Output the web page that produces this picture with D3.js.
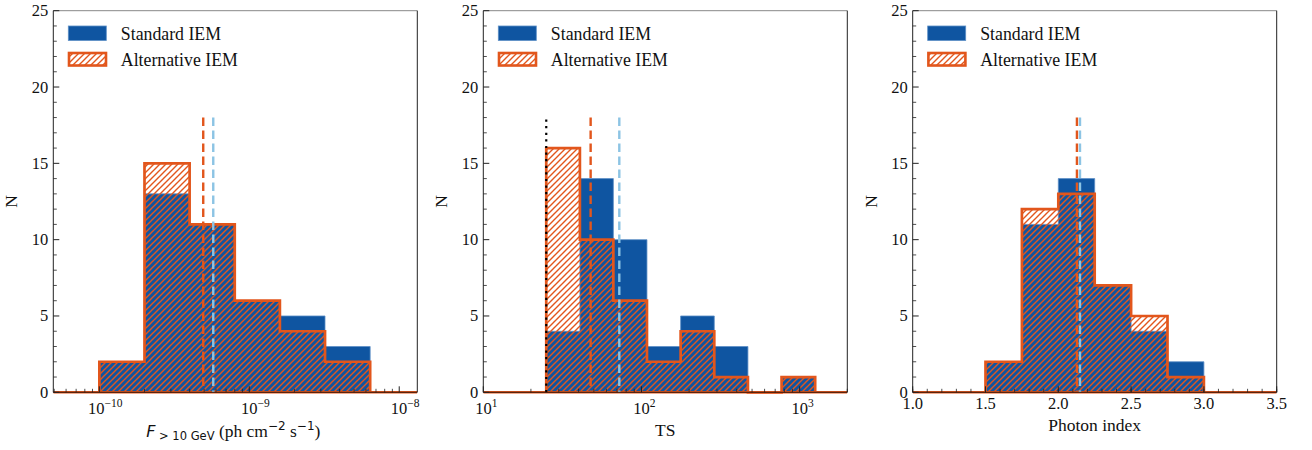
<!DOCTYPE html>
<html>
<head>
<meta charset="utf-8">
<script src="https://cdn.jsdelivr.net/npm/d3@7"></script>
<style>
html,body{margin:0;padding:0;background:#fff;}
svg{display:block;}
.serif{font-family:"Liberation Serif","Times New Roman",Times,"DejaVu Serif",serif;}
.sans{font-family:"DejaVu Sans",sans-serif;}
</style>
</head>
<body>
<svg id="chart" width="1312" height="450"></svg>
<script>
// ---------- data ----------
const seriesNames = ["Standard IEM", "Alternative IEM"];
const yTicks = [0, 5, 10, 15, 20, 25];

// Panel 1: flux > 10 GeV
const fluxBinEdges = [1e-10, 2e-10, 4e-10, 8e-10, 1.6e-9, 3.2e-9, 6.4e-9];
const fluxStandard = [2, 13, 11, 6, 5, 3];
const fluxAlternative = [2, 15, 11, 6, 4, 2];
const fluxMedianStandard = 5.75e-10;
const fluxMedianAlternative = 4.93e-10;
const fluxDomain = [4.93e-11, 1.32e-8];
const fluxTickExponents = [-10, -9, -8];

// Panel 2: TS
const tsBinEdges = [25, 40.8, 66.4, 108.3, 176.8, 288.5, 470.8, 768.2, 1253];
const tsStandard = [4, 14, 10, 3, 5, 3, 0, 1];
const tsAlternative = [16, 10, 6, 2, 4, 1, 0, 1];
const tsMedianStandard = 72.4;
const tsMedianAlternative = 47.7;
const tsThreshold = 25;
const tsDomain = [10, 2000];
const tsTickExponents = [1, 2, 3];

// Panel 3: photon index
const indexBinEdges = [1.5, 1.75, 2.0, 2.25, 2.5, 2.75, 3.0];
const indexStandard = [2, 11, 14, 7, 4, 2];
const indexAlternative = [2, 12, 13, 7, 5, 1];
const indexMedianStandard = 2.149;
const indexMedianAlternative = 2.128;
const indexDomain = [1.0, 3.5];
const indexTicks = [1.0, 1.5, 2.0, 2.5, 3.0, 3.5];

// ---------- style ----------
const BLUE = "#0f55a1";
const ORANGE = "#e2561c";
const LIGHTBLUE = "#8cc4e4";

const svg = d3.select("#chart");
const defs = svg.append("defs");
const pat = defs.append("pattern")
  .attr("id", "hatch").attr("patternUnits", "userSpaceOnUse")
  .attr("width", 6).attr("height", 6);
pat.append("path")
  .attr("d", "M0,6 L6,0 M-1.5,1.5 L1.5,-1.5 M4.5,7.5 L7.5,4.5")
  .attr("stroke", ORANGE).attr("stroke-width", 1.4).attr("fill", "none");

const TOP = 10.7, BOTTOM = 392.3, W = 364;

function stepPoints(edges, counts, x, y) {
  const pts = [[x(edges[0]), y(0)]];
  counts.forEach((c, i) => {
    pts.push([x(edges[i]), y(c)]);
    pts.push([x(edges[i + 1]), y(c)]);
  });
  pts.push([x(edges[edges.length - 1]), y(0)]);
  return pts;
}

function serifText(sel) {
  return sel.append("text").attr("class", "serif").attr("fill", "#111");
}

function drawPanel(cfg) {
  const left = cfg.left;
  const g = svg.append("g");
  const x = cfg.log ? d3.scaleLog().domain(cfg.domain).range([left, left + W])
                    : d3.scaleLinear().domain(cfg.domain).range([left, left + W]);
  const y = d3.scaleLinear().domain([0, 25]).range([BOTTOM, TOP]);
  const line = d3.line();

  const clip = defs.append("clipPath").attr("id", "clip" + cfg.id);
  clip.append("rect").attr("x", left).attr("y", TOP).attr("width", W).attr("height", BOTTOM - TOP + 2);
  const plot = g.append("g").attr("clip-path", `url(#clip${cfg.id})`);

  const sp = stepPoints(cfg.edges, cfg.standard, x, y);
  plot.append("path").attr("d", line(sp) + "Z")
    .attr("fill", BLUE).attr("stroke", "#5d8fc6").attr("stroke-width", 0.8);

  const ap = stepPoints(cfg.edges, cfg.alternative, x, y);
  plot.append("path").attr("d", line(ap) + "Z")
    .attr("fill", "url(#hatch)").attr("stroke", "none");
  plot.append("line").attr("x1", left).attr("x2", left + W)
    .attr("y1", y(0)).attr("y2", y(0))
    .attr("stroke", ORANGE).attr("stroke-width", 2.6);
  plot.append("path").attr("d", line(ap))
    .attr("fill", "none").attr("stroke", ORANGE).attr("stroke-width", 2.7)
    .attr("stroke-linejoin", "miter");

  if (cfg.threshold !== undefined) {
    g.append("line").attr("x1", x(cfg.threshold)).attr("x2", x(cfg.threshold))
      .attr("y1", y(0)).attr("y2", y(18))
      .attr("stroke", "#000").attr("stroke-width", 2.2).attr("stroke-dasharray", "2.2,4.4");
  }
  g.append("line").attr("x1", x(cfg.medAlt)).attr("x2", x(cfg.medAlt))
    .attr("y1", y(18)).attr("y2", y(0))
    .attr("stroke", ORANGE).attr("stroke-width", 2.4).attr("stroke-dasharray", "8.5,4.5");
  g.append("line").attr("x1", x(cfg.medStd)).attr("x2", x(cfg.medStd))
    .attr("y1", y(18)).attr("y2", y(0))
    .attr("stroke", LIGHTBLUE).attr("stroke-width", 2.4).attr("stroke-dasharray", "8.5,4.5");

  // spines
  g.append("line").attr("x1", left).attr("x2", left + W).attr("y1", TOP).attr("y2", TOP)
    .attr("stroke", "#888").attr("stroke-width", 1);
  g.append("line").attr("x1", left + W).attr("x2", left + W).attr("y1", TOP).attr("y2", BOTTOM)
    .attr("stroke", "#222").attr("stroke-width", 1);
  g.append("line").attr("x1", left).attr("x2", left).attr("y1", TOP).attr("y2", BOTTOM)
    .attr("stroke", "#222").attr("stroke-width", 1);
  g.append("line").attr("x1", left).attr("x2", left + W).attr("y1", BOTTOM).attr("y2", BOTTOM)
    .attr("stroke", "#3a1a0c").attr("stroke-width", 1);

  // y ticks
  const yMinor = d3.range(0, 26).filter(v => v % 5 !== 0);
  yTicks.forEach(v => {
    g.append("line").attr("x1", left).attr("x2", left + 6).attr("y1", y(v)).attr("y2", y(v))
      .attr("stroke", "#222").attr("stroke-width", 1);
    serifText(g).attr("x", left - 5).attr("y", y(v) + 5.5)
      .attr("text-anchor", "end").attr("font-size", 16.5).text(v);
  });
  yMinor.forEach(v => {
    g.append("line").attr("x1", left).attr("x2", left + 3.5).attr("y1", y(v)).attr("y2", y(v))
      .attr("stroke", "#222").attr("stroke-width", 0.8);
  });
  serifText(g).attr("transform", `translate(${left - 36},${(TOP + BOTTOM) / 2}) rotate(-90)`)
    .attr("text-anchor", "middle").attr("font-size", 17.5).text("N");

  // x ticks
  if (cfg.log) {
    const lo = Math.floor(Math.log10(cfg.domain[0])), hi = Math.ceil(Math.log10(cfg.domain[1]));
    for (let e = lo; e <= hi; e++) {
      for (let m = 2; m <= 9; m++) {
        const v = m * Math.pow(10, e);
        if (v > cfg.domain[0] && v <= cfg.domain[1] * 1.0001) {
          g.append("line").attr("x1", x(v)).attr("x2", x(v)).attr("y1", BOTTOM).attr("y2", BOTTOM - 3.5)
            .attr("stroke", "#222").attr("stroke-width", 0.8);
        }
      }
    }
    cfg.tickExps.forEach(e => {
      const v = Math.pow(10, e);
      g.append("line").attr("x1", x(v)).attr("x2", x(v)).attr("y1", BOTTOM).attr("y2", BOTTOM - 6)
        .attr("stroke", "#222").attr("stroke-width", 1);
      const t = serifText(g).attr("x", x(v) + cfg.supShift).attr("y", 413.5)
        .attr("text-anchor", "middle").attr("font-size", 16.5);
      t.append("tspan").text("10");
      t.append("tspan").attr("dy", -7).attr("font-size", 11.5).text(String(e).replace("-", "\u2212"));
    });
  } else {
    d3.range(cfg.domain[0], cfg.domain[1] + 0.001, 0.1).forEach(v => {
      g.append("line").attr("x1", x(v)).attr("x2", x(v)).attr("y1", BOTTOM).attr("y2", BOTTOM - 3.5)
        .attr("stroke", "#222").attr("stroke-width", 0.8);
    });
    cfg.ticks.forEach(v => {
      g.append("line").attr("x1", x(v)).attr("x2", x(v)).attr("y1", BOTTOM).attr("y2", BOTTOM - 6)
        .attr("stroke", "#222").attr("stroke-width", 1);
      serifText(g).attr("x", x(v)).attr("y", 409)
        .attr("text-anchor", "middle").attr("font-size", 16.5).text(v.toFixed(1));
    });
  }

  cfg.xlabel(g, left + W / 2);

  // legend
  const lx = left + 15;
  g.append("rect").attr("x", lx).attr("y", 26).attr("width", 38).attr("height", 14.5)
    .attr("fill", BLUE).attr("stroke", "#5d8fc6").attr("stroke-width", 0.8);
  g.append("rect").attr("x", lx + 0.7).attr("y", 53).attr("width", 37).attr("height", 12.5)
    .attr("fill", "url(#hatch)").attr("stroke", ORANGE).attr("stroke-width", 2.6);
  serifText(g).attr("x", left + 67.5).attr("y", 39.5).attr("font-size", 17.8).text(seriesNames[0]);
  serifText(g).attr("x", left + 67.5).attr("y", 65.5).attr("font-size", 17.8).text(seriesNames[1]);
}

drawPanel({
  id: 1, left: 53.3, log: true, domain: fluxDomain, edges: fluxBinEdges,
  standard: fluxStandard, alternative: fluxAlternative,
  medStd: fluxMedianStandard, medAlt: fluxMedianAlternative,
  tickExps: fluxTickExponents, supShift: 6,
  xlabel: (g, cx) => {
    const t = serifText(g).attr("x", cx - 2).attr("y", 437).attr("text-anchor", "middle").attr("font-size", 17.5);
    t.append("tspan").attr("class", "sans").attr("font-style", "italic").attr("font-size", 16).text("F");
    t.append("tspan").attr("class", "sans").attr("font-size", 11.5).attr("dy", 3).text(" > 10 GeV");
    t.append("tspan").attr("dy", -3).text(" (ph cm");
    t.append("tspan").attr("class", "sans").attr("font-size", 12).attr("dy", -7).text("\u22122");
    t.append("tspan").attr("dy", 7).text(" s");
    t.append("tspan").attr("class", "sans").attr("font-size", 12).attr("dy", -7).text("\u22121");
    t.append("tspan").attr("dy", 7).text(")");
  }
});

drawPanel({
  id: 2, left: 483.3, log: true, domain: tsDomain, edges: tsBinEdges,
  standard: tsStandard, alternative: tsAlternative,
  medStd: tsMedianStandard, medAlt: tsMedianAlternative, threshold: tsThreshold,
  tickExps: tsTickExponents, supShift: 3,
  xlabel: (g, cx) => {
    serifText(g).attr("x", cx).attr("y", 436).attr("text-anchor", "middle").attr("font-size", 17.5).text("TS");
  }
});

drawPanel({
  id: 3, left: 912.7, log: false, domain: indexDomain, edges: indexBinEdges,
  standard: indexStandard, alternative: indexAlternative,
  medStd: indexMedianStandard, medAlt: indexMedianAlternative,
  ticks: indexTicks,
  xlabel: (g, cx) => {
    serifText(g).attr("x", cx).attr("y", 431).attr("text-anchor", "middle").attr("font-size", 17.5).text("Photon index");
  }
});
</script>
</body>
</html>
